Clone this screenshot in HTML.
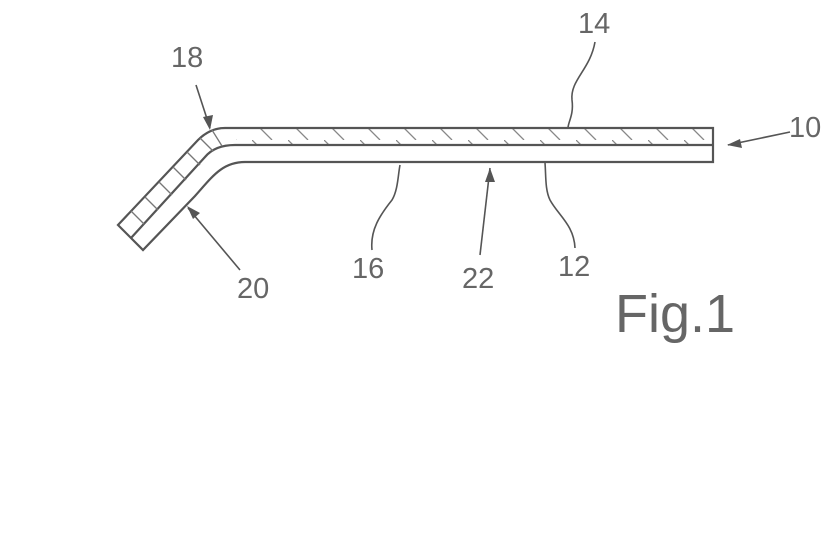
<!DOCTYPE html>
<html><head><style>html,body{margin:0;padding:0;background:#fff}svg{display:block}</style></head><body>
<svg width="840" height="560" viewBox="0 0 840 560" xmlns="http://www.w3.org/2000/svg">
<defs>
<pattern id="h" width="36" height="20" patternUnits="userSpaceOnUse">
<line x1="0" y1="0" x2="20" y2="20" stroke="#888" stroke-width="1.3"/>
</pattern>
<clipPath id="up"><path d="M713,128 L225,128 Q210,128 198,140 L118,225 L131,238 L205,157 Q215,145 235,145 L713,145 Z"/></clipPath>
</defs>
<g fill="none" stroke="#555" stroke-width="2.2">
<rect x="236" y="128" width="477" height="17" fill="url(#h)" stroke="none" clip-path="url(#up)"/>
<path d="M713,128 L225,128 Q210,128 198,140 L118,225 L143,250 L195,196 C212,177 222,162 245,162 L713,162 Z"/>
<path d="M713,145 L235,145 Q215,145 205,157 L131,238"/>
<g stroke="#777" stroke-width="1.3">
<line x1="212" y1="130" x2="222" y2="146"/>
<line x1="200" y1="138" x2="213" y2="151"/>
<line x1="187" y1="152" x2="200" y2="165"/>
<line x1="173" y1="167" x2="186" y2="180"/>
<line x1="159" y1="182" x2="172" y2="195"/>
<line x1="145" y1="197" x2="158" y2="210"/>
<line x1="131" y1="211" x2="144" y2="224"/>
</g>
<g stroke-width="1.6">
<path d="M196,85 L210,128"/>
<path d="M595,42 C590,70 570,80 572,100 C574,115 568,122 568,128"/>
<path d="M790,132 L728,145"/>
<path d="M372,250 C370,230 380,215 392,200 C398,190 398,175 400,165"/>
<path d="M480,255 L490,168"/>
<path d="M575,248 C574,225 558,215 550,200 C545,190 546,175 545,163"/>
<path d="M240,270 L188,208"/>
</g>
<g fill="#555" stroke="none">
<path d="M210,130 L203,117 L213,115 Z"/>
<path d="M727,145 L740,139 L742,148 Z"/>
<path d="M490,168 L485,182 L495,182 Z"/>
<path d="M187,206 L200,213 L193,219 Z"/>
</g>
</g>
<g font-family="Liberation Sans, sans-serif" font-size="29" fill="#666">
<text x="171" y="67">18</text>
<text x="578" y="33">14</text>
<text x="789" y="137">10</text>
<text x="352" y="278">16</text>
<text x="462" y="288">22</text>
<text x="558" y="276">12</text>
<text x="237" y="298">20</text>
<text x="615" y="332" font-size="54">Fig.1</text>
</g>
</svg>
</body></html>
